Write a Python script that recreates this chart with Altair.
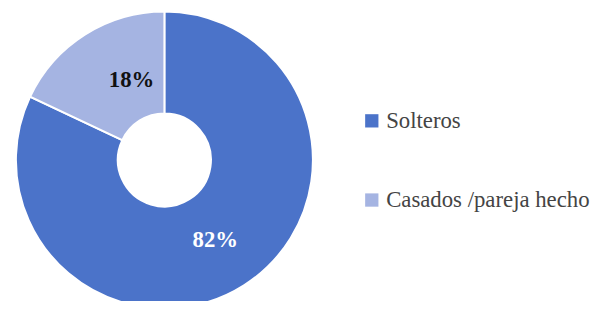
import altair as alt
import pandas as pd

categories = ["Solteros", "Casados /pareja hecho"]
values = [82, 18]
labels = ["82%", "18%"]
colors = ["#4B73C9", "#A5B4E2"]

df = pd.DataFrame({"cat": categories, "val": values, "lab": labels, "order": [0, 1]})

SERIF = "Liberation Serif, DejaVu Serif"
cx, cy = 158, 152

base = alt.Chart(df).encode(
    theta=alt.Theta("val:Q", stack=True),
    order=alt.Order("order:Q"),
)

arcs = base.mark_arc(
    outerRadius=150, innerRadius=47, stroke="#ffffff", strokeWidth=2
).encode(
    x=alt.value(cx),
    y=alt.value(cy),
    color=alt.Color(
        "cat:N",
        scale=alt.Scale(domain=categories, range=colors),
        sort=categories,
        legend=alt.Legend(
            title=None,
            orient="none",
            legendX=356,
            legendY=101,
            symbolType="square",
            symbolSize=180,
            symbolStrokeWidth=0,
            labelFont=SERIF,
            labelFontSize=23,
            labelColor="#444444",
            labelOffset=3,
            rowPadding=56,
            labelLimit=400,
        ),
    ),
)

label_c = base.mark_text(
    radius=88, font=SERIF, fontSize=23, fontWeight="bold", color="#111111",
    dx=14, dy=-6,
).encode(
    x=alt.value(cx), y=alt.value(cy), text="lab:N",
    opacity=alt.condition(alt.datum.cat == "Solteros", alt.value(0), alt.value(1)),
)

label_s = base.mark_text(
    radius=96, font=SERIF, fontSize=23, fontWeight="bold", color="white"
).encode(
    x=alt.value(cx), y=alt.value(cy), text="lab:N",
    opacity=alt.condition(alt.datum.cat == "Solteros", alt.value(1), alt.value(0)),
)

chart = alt.layer(arcs, label_c, label_s).properties(
    width=595, height=293, padding=0,
    autosize=alt.AutoSizeParams(type="none"),
).configure_view(stroke=None).configure_legend(labelFont=SERIF)

chart.save("out.html", embed_options={"renderer": "svg", "actions": False})
